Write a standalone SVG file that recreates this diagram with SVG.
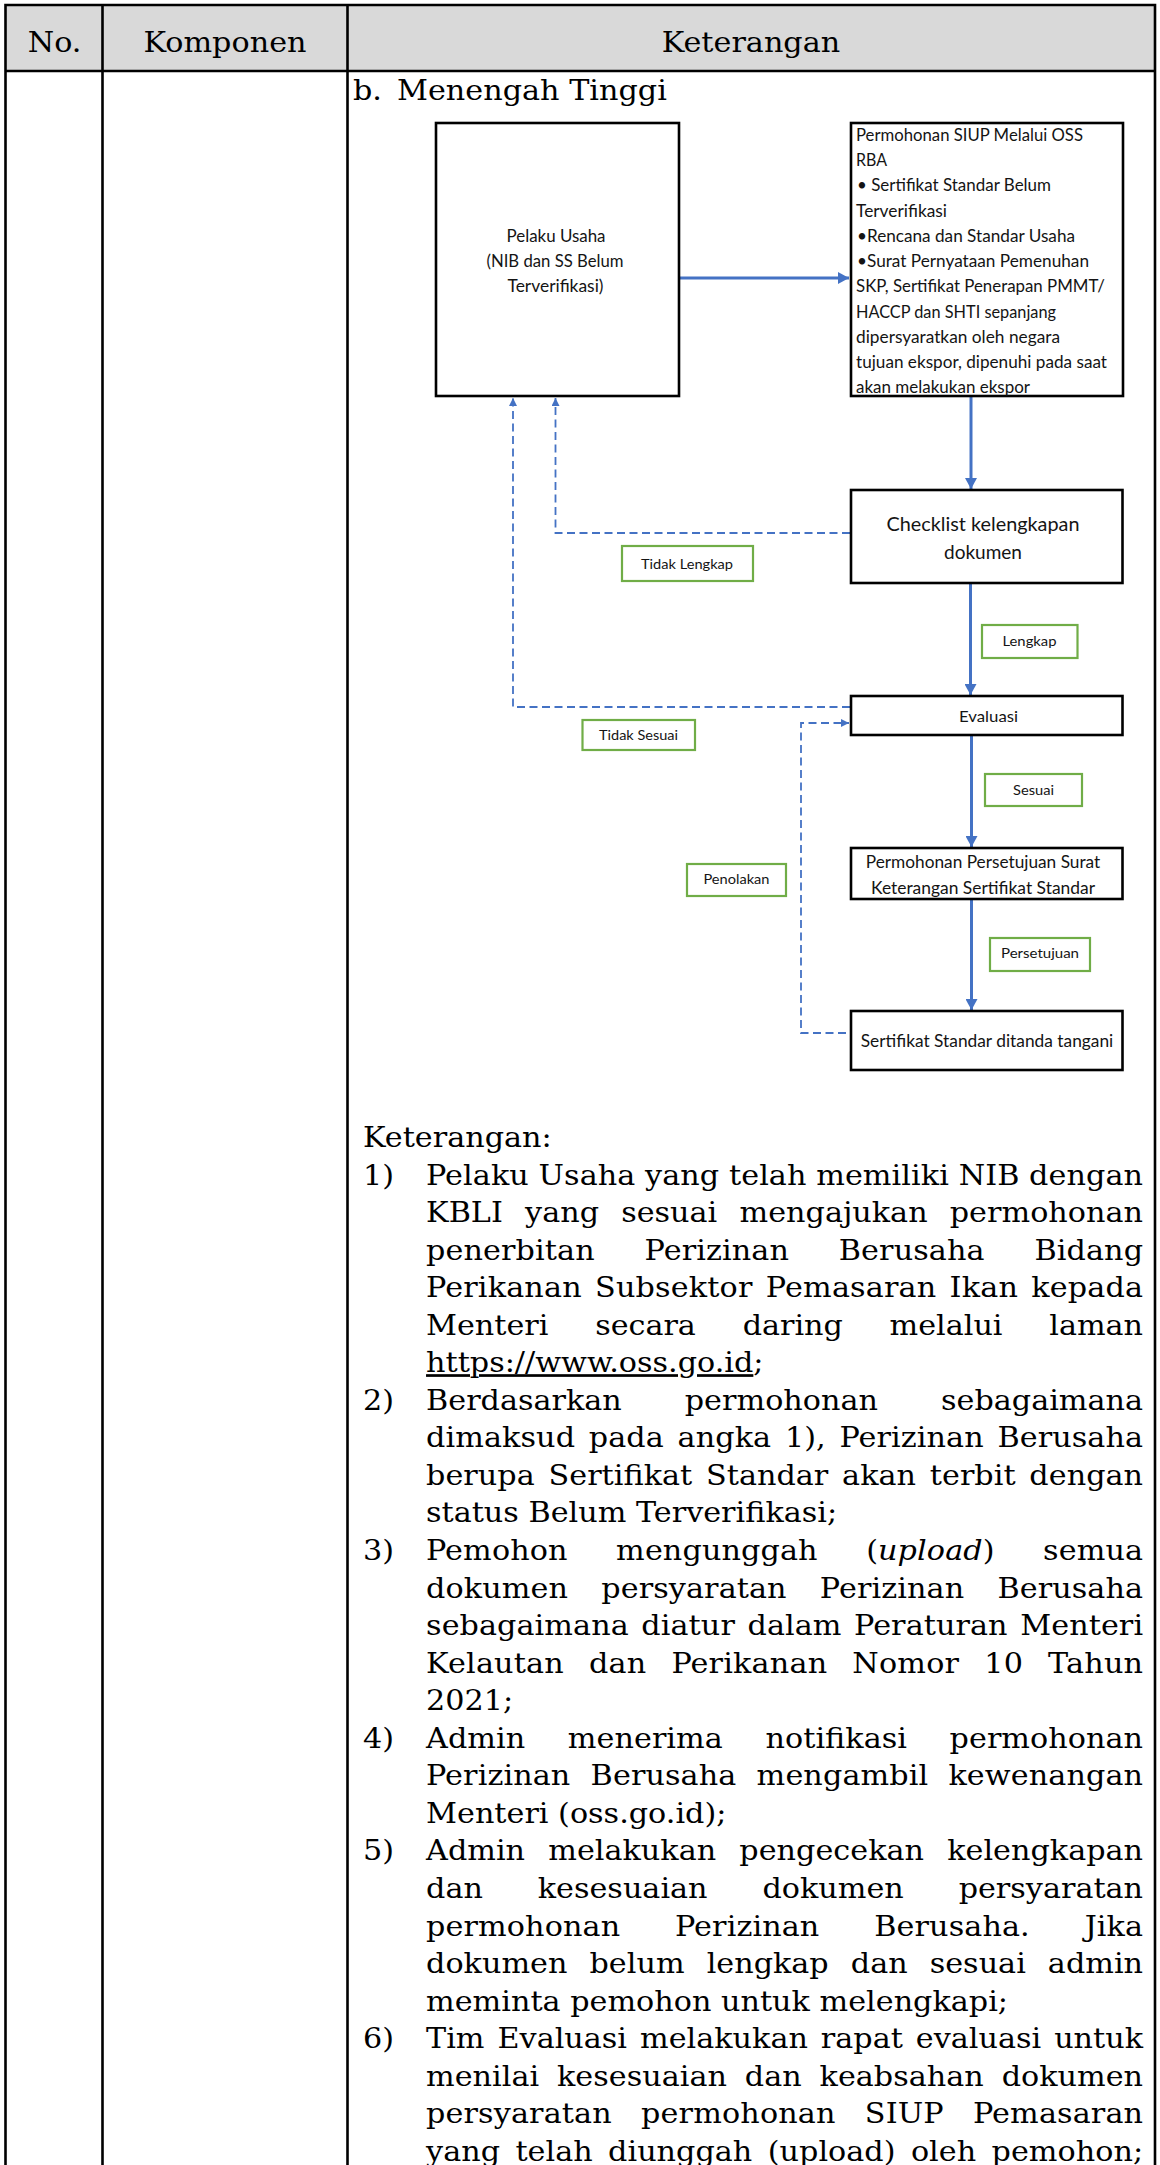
<svg xmlns="http://www.w3.org/2000/svg" width="1160" height="2165" viewBox="0 0 1160 2165">
<defs>
<style>
.grid{stroke:#000;stroke-width:2.6;fill:none}
.serif{font-family:"DejaVu Serif","Liberation Serif",serif;font-size:27px;fill:#000}
.mid{text-anchor:middle}
.box{fill:#fff;stroke:#000;stroke-width:2.6}
.tag{fill:#fff;stroke:#70AD47;stroke-width:2.2}
.sans{font-family:Lato,"Open Sans","Liberation Sans",sans-serif;fill:#141414}
.flow{fill:none;stroke:#4472C4;stroke-width:3}
.back{fill:none;stroke:#4472C4;stroke-width:1.8;stroke-dasharray:8 4.5}
</style>
<marker id="ah" markerUnits="userSpaceOnUse" markerWidth="12" markerHeight="12" refX="11" refY="6" orient="auto"><path d="M0,0 L11,6 L0,12 z" fill="#4472C4"/></marker>
<marker id="ahs" markerUnits="userSpaceOnUse" markerWidth="9" markerHeight="8" refX="8" refY="4" orient="auto"><path d="M0,0 L8,4 L0,8 z" fill="#4472C4"/></marker>
</defs>

<rect width="1160" height="2165" fill="#fff"/>

<!-- table frame -->
<g id="table">
<rect x="5.5" y="5" width="1149.5" height="66" fill="#D9D9D9"/>
<path class="grid" d="M5.5,5 H1155 M5.5,3.7 V2165 M1155,3.7 V2165 M102.5,5 V2165 M347.5,5 V2165 M5.5,71 H1155"/>
</g>

<!-- serif text, widened to the document face proportions -->
<g class="serif" transform="scale(1.12,1)">
<g id="header">
<text class="mid" x="48.7" y="52">No.</text>
<text class="mid" x="200.9" y="52">Komponen</text>
<text class="mid" x="670.5" y="52">Keterangan</text>
</g>
<g id="subtitle">
<text x="315.2" y="100">b.</text>
<text x="354.5" y="100">Menengah Tinggi</text>
</g>
<g id="notes">
<text x="324.1" y="1147">Keterangan:</text>
<text x="324.1" y="1184.6">1)</text>
<text x="324.1" y="1409.9">2)</text>
<text x="324.1" y="1560.1">3)</text>
<text x="324.1" y="1747.8">4)</text>
<text x="324.1" y="1860.5">5)</text>
<text x="324.1" y="2048.2">6)</text>

<text x="380.4" y="1184.6" textLength="640.2" lengthAdjust="spacing">Pelaku Usaha yang telah memiliki NIB dengan</text>
<text x="380.4" y="1222.1" textLength="640.2" lengthAdjust="spacing" style="word-spacing:11.2px">KBLI yang sesuai mengajukan permohonan</text>
<text x="380.4" y="1259.7" textLength="640.2" lengthAdjust="spacing" style="word-spacing:35.8px">penerbitan Perizinan Berusaha Bidang</text>
<text x="380.4" y="1297.2" textLength="640.2" lengthAdjust="spacing" style="word-spacing:3.1px">Perikanan Subsektor Pemasaran Ikan kepada</text>
<text x="380.4" y="1334.8" textLength="640.2" lengthAdjust="spacing" style="word-spacing:33.2px">Menteri secara daring melalui laman</text>
<text x="380.4" y="1372.3"><tspan text-decoration="underline">https://www.oss.go.id</tspan>;</text>

<text x="380.4" y="1409.9" textLength="640.2" lengthAdjust="spacing" style="word-spacing:47.6px">Berdasarkan permohonan sebagaimana</text>
<text x="380.4" y="1447.4" textLength="640.2" lengthAdjust="spacing" style="word-spacing:3.6px">dimaksud pada angka 1), Perizinan Berusaha</text>
<text x="380.4" y="1485" textLength="640.2" lengthAdjust="spacing" style="word-spacing:3.7px">berupa Sertifikat Standar akan terbit dengan</text>
<text x="380.4" y="1522.5">status Belum Terverifikasi;</text>

<text x="380.4" y="1560.1" textLength="640.2" lengthAdjust="spacing" style="word-spacing:34.6px">Pemohon mengunggah (<tspan font-style="italic">upload</tspan>) semua</text>
<text x="380.4" y="1597.6" textLength="640.2" lengthAdjust="spacing" style="word-spacing:21px">dokumen persyaratan Perizinan Berusaha</text>
<text x="380.4" y="1635.2" textLength="640.2" lengthAdjust="spacing" style="word-spacing:2.6px">sebagaimana diatur dalam Peraturan Menteri</text>
<text x="380.4" y="1672.7" textLength="640.2" lengthAdjust="spacing" style="word-spacing:13.6px">Kelautan dan Perikanan Nomor 10 Tahun</text>
<text x="380.4" y="1710.3">2021;</text>

<text x="380.4" y="1747.8" textLength="640.2" lengthAdjust="spacing" style="word-spacing:29.5px">Admin menerima notifikasi permohonan</text>
<text x="380.4" y="1785.4" textLength="640.2" lengthAdjust="spacing" style="word-spacing:9.4px">Perizinan Berusaha mengambil kewenangan</text>
<text x="380.4" y="1822.9">Menteri (oss.go.id);</text>

<text x="380.4" y="1860.5" textLength="640.2" lengthAdjust="spacing" style="word-spacing:12.1px">Admin melakukan pengecekan kelengkapan</text>
<text x="380.4" y="1898" textLength="640.2" lengthAdjust="spacing" style="word-spacing:40.4px">dan kesesuaian dokumen persyaratan</text>
<text x="380.4" y="1935.6" textLength="640.2" lengthAdjust="spacing" style="word-spacing:40.3px">permohonan Perizinan Berusaha. Jika</text>
<text x="380.4" y="1973.1" textLength="640.2" lengthAdjust="spacing" style="word-spacing:11.1px">dokumen belum lengkap dan sesuai admin</text>
<text x="380.4" y="2010.7">meminta pemohon untuk melengkapi;</text>

<text x="380.4" y="2048.2" textLength="640.2" lengthAdjust="spacing" style="word-spacing:3px">Tim Evaluasi melakukan rapat evaluasi untuk</text>
<text x="380.4" y="2085.8" textLength="640.2" lengthAdjust="spacing" style="word-spacing:7.4px">menilai kesesuaian dan keabsahan dokumen</text>
<text x="380.4" y="2123.3" textLength="640.2" lengthAdjust="spacing" style="word-spacing:17.4px">persyaratan permohonan SIUP Pemasaran</text>
<text x="380.4" y="2160.9" textLength="640.2" lengthAdjust="spacing" style="word-spacing:5.2px">yang telah diunggah (upload) oleh pemohon;</text>
</g>
</g>

<!-- connectors -->
<g id="connectors">
<path class="flow" d="M680,278 H849" marker-end="url(#ah)"/>
<path class="flow" d="M971,397 V489" marker-end="url(#ah)"/>
<path class="flow" d="M970.5,584 V695" marker-end="url(#ah)"/>
<path class="flow" d="M971.5,736 V847" marker-end="url(#ah)"/>
<path class="flow" d="M971.5,900 V1010" marker-end="url(#ah)"/>
<path class="back" d="M850,533 H555.5 V398" marker-end="url(#ahs)"/>
<path class="back" d="M850,707 H513 V398" marker-end="url(#ahs)"/>
<path class="back" d="M846,1033 H801 V723 H849" marker-end="url(#ahs)"/>
</g>

<!-- process boxes -->
<g id="pelaku-usaha" class="sans" font-size="16.5">
<rect class="box" x="436" y="123" width="243" height="273"/>
<text class="mid" x="556" y="241.5" textLength="99" lengthAdjust="spacingAndGlyphs">Pelaku Usaha</text>
<text class="mid" x="555" y="266.5" textLength="137" lengthAdjust="spacingAndGlyphs">(NIB dan SS Belum</text>
<text class="mid" x="555.5" y="291.5" textLength="96" lengthAdjust="spacingAndGlyphs">Terverifikasi)</text>
</g>

<g id="permohonan-siup" class="sans" font-size="16.3">
<rect class="box" x="851" y="123" width="272" height="273"/>
<text x="856" y="140.7" textLength="227" lengthAdjust="spacingAndGlyphs">Permohonan SIUP Melalui OSS</text>
<text x="856" y="166" textLength="31" lengthAdjust="spacingAndGlyphs">RBA</text>
<text x="857" y="191.2" textLength="194" lengthAdjust="spacingAndGlyphs">• Sertifikat Standar Belum</text>
<text x="856" y="216.5" textLength="91" lengthAdjust="spacingAndGlyphs">Terverifikasi</text>
<text x="857" y="241.7" textLength="218" lengthAdjust="spacingAndGlyphs">•Rencana dan Standar Usaha</text>
<text x="857" y="267" textLength="232" lengthAdjust="spacingAndGlyphs">•Surat Pernyataan Pemenuhan</text>
<text x="856" y="292.3" textLength="249" lengthAdjust="spacingAndGlyphs">SKP, Sertifikat Penerapan PMMT/</text>
<text x="856" y="317.5" textLength="200" lengthAdjust="spacingAndGlyphs">HACCP dan SHTI sepanjang</text>
<text x="856" y="342.8" textLength="204" lengthAdjust="spacingAndGlyphs">dipersyaratkan oleh negara</text>
<text x="856" y="368" textLength="251" lengthAdjust="spacingAndGlyphs">tujuan ekspor, dipenuhi pada saat</text>
<text x="856" y="393.3" textLength="174" lengthAdjust="spacingAndGlyphs">akan melakukan ekspor</text>
</g>

<g id="checklist" class="sans" font-size="19.2">
<rect class="box" x="851" y="490" width="271.5" height="93"/>
<text class="mid" x="983" y="530.5" textLength="193" lengthAdjust="spacingAndGlyphs">Checklist kelengkapan</text>
<text class="mid" x="983" y="558.5" textLength="78" lengthAdjust="spacingAndGlyphs">dokumen</text>
</g>

<g id="evaluasi" class="sans" font-size="16">
<rect class="box" x="851" y="696" width="271.5" height="39"/>
<text class="mid" x="988.5" y="721.5" textLength="59" lengthAdjust="spacingAndGlyphs">Evaluasi</text>
</g>

<g id="permohonan-persetujuan" class="sans" font-size="16.4">
<rect class="box" x="851" y="848" width="271.5" height="51"/>
<text class="mid" x="983" y="868" textLength="234.5" lengthAdjust="spacingAndGlyphs">Permohonan Persetujuan Surat</text>
<text class="mid" x="983" y="894" textLength="224" lengthAdjust="spacingAndGlyphs">Keterangan Sertifikat Standar</text>
</g>

<g id="sertifikat-standar" class="sans" font-size="16.5">
<rect class="box" x="851" y="1011" width="271.5" height="59"/>
<text class="mid" x="987" y="1047" textLength="252.5" lengthAdjust="spacingAndGlyphs">Sertifikat Standar ditanda tangani</text>
</g>

<!-- decision labels -->
<g id="label-tidak-lengkap" class="sans" font-size="14.3">
<rect class="tag" x="622" y="546" width="131" height="35"/>
<text class="mid" x="687" y="569" textLength="92" lengthAdjust="spacingAndGlyphs">Tidak Lengkap</text>
</g>
<g id="label-lengkap" class="sans" font-size="14.3">
<rect class="tag" x="982" y="625" width="95.5" height="33"/>
<text class="mid" x="1029.5" y="645.5" textLength="54" lengthAdjust="spacingAndGlyphs">Lengkap</text>
</g>
<g id="label-tidak-sesuai" class="sans" font-size="14.3">
<rect class="tag" x="582.5" y="720" width="112.5" height="30"/>
<text class="mid" x="638.5" y="739.5" textLength="79" lengthAdjust="spacingAndGlyphs">Tidak Sesuai</text>
</g>
<g id="label-sesuai" class="sans" font-size="14.3">
<rect class="tag" x="985" y="774" width="97" height="32"/>
<text class="mid" x="1033.5" y="795" textLength="41" lengthAdjust="spacingAndGlyphs">Sesuai</text>
</g>
<g id="label-penolakan" class="sans" font-size="14.3">
<rect class="tag" x="687" y="864" width="99" height="32"/>
<text class="mid" x="736.5" y="884" textLength="66" lengthAdjust="spacingAndGlyphs">Penolakan</text>
</g>
<g id="label-persetujuan" class="sans" font-size="14.3">
<rect class="tag" x="990" y="938" width="100" height="33"/>
<text class="mid" x="1040" y="957.5" textLength="78" lengthAdjust="spacingAndGlyphs">Persetujuan</text>
</g>
</svg>
